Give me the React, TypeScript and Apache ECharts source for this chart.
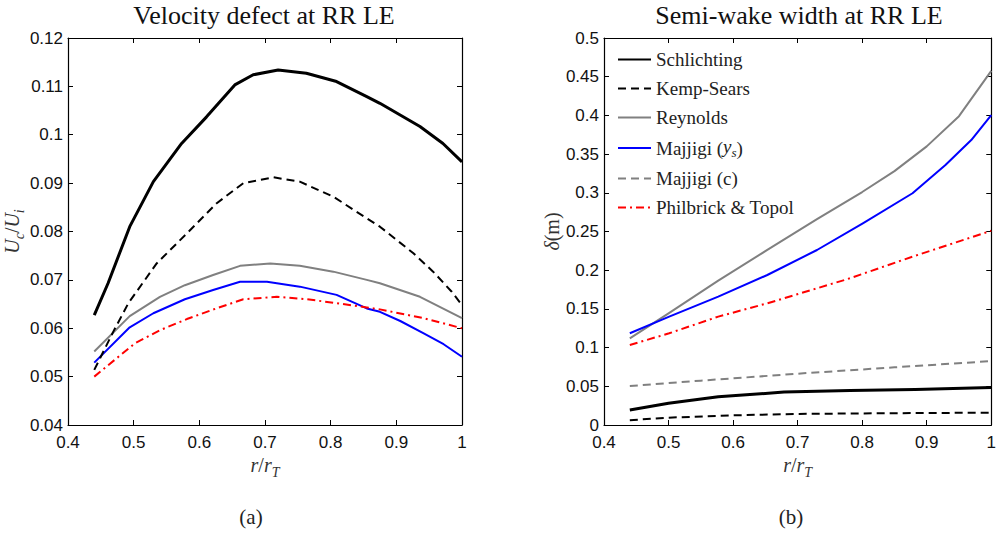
import { useEffect, useRef } from "react";
import * as echarts from "echarts";

// ---------- tick values ----------
const xTicks = [0.4, 0.5, 0.6, 0.7, 0.8, 0.9, 1.0];
const leftYTicks = [0.04, 0.05, 0.06, 0.07, 0.08, 0.09, 0.1, 0.11, 0.12];
const rightYTicks = [0, 0.05, 0.1, 0.15, 0.2, 0.25, 0.3, 0.35, 0.4, 0.45, 0.5];

// ---------- legend / series names ----------
const seriesNames = ["Schlichting", "Kemp-Sears", "Reynolds", "Majjigi (ys)", "Majjigi (c)", "Philbrick & Topol"];

// ---------- (a) Velocity defect ----------
const aSchlichtingX = [0.44, 0.461, 0.494, 0.530, 0.573, 0.611, 0.654, 0.682, 0.720, 0.763, 0.809, 0.855, 0.875, 0.936, 0.971, 1.0];
const aSchlichtingY = [0.0627, 0.0693, 0.0810, 0.0903, 0.0982, 0.1037, 0.1103, 0.1124, 0.1134, 0.1127, 0.1110, 0.1079, 0.1065, 0.1017, 0.0982, 0.0944];

const aKempX = [0.44, 0.469, 0.492, 0.535, 0.581, 0.626, 0.667, 0.713, 0.753, 0.804, 0.845, 0.875, 0.926, 0.956, 0.984, 1.0];
const aKempY = [0.0514, 0.0593, 0.0652, 0.0734, 0.0796, 0.0858, 0.0900, 0.0912, 0.0903, 0.0872, 0.0836, 0.0810, 0.0755, 0.0717, 0.0676, 0.0648];

const aReynoldsX = [0.44, 0.494, 0.540, 0.578, 0.621, 0.662, 0.708, 0.753, 0.804, 0.855, 0.875, 0.936, 1.0];
const aReynoldsY = [0.0552, 0.0625, 0.0665, 0.0689, 0.0710, 0.0729, 0.0734, 0.0729, 0.0717, 0.0700, 0.0693, 0.0665, 0.0621];

const aMajjigiYsX = [0.44, 0.494, 0.530, 0.578, 0.621, 0.662, 0.703, 0.753, 0.809, 0.855, 0.875, 0.906, 0.941, 0.972, 1.0];
const aMajjigiYsY = [0.0529, 0.0602, 0.0631, 0.0660, 0.0679, 0.0696, 0.0696, 0.0686, 0.0669, 0.0641, 0.0634, 0.0615, 0.0590, 0.0567, 0.0541];

const aPhilbrickX = [0.44, 0.502, 0.540, 0.581, 0.626, 0.667, 0.718, 0.763, 0.809, 0.855, 0.875, 0.941, 1.0];
const aPhilbrickY = [0.0500, 0.0569, 0.0596, 0.0619, 0.0641, 0.0660, 0.0665, 0.0660, 0.0652, 0.0643, 0.0639, 0.0621, 0.0600];

// ---------- (b) Semi-wake width ----------
const bSchlichtingX = [0.44, 0.5, 0.577, 0.679, 0.781, 0.882, 1.0];
const bSchlichtingY = [0.0194, 0.0280, 0.0366, 0.0425, 0.0445, 0.0460, 0.0485];

const bKempX = [0.44, 0.5, 0.6, 0.7, 0.8, 0.9, 1.0];
const bKempY = [0.0062, 0.0095, 0.0125, 0.0143, 0.0150, 0.0155, 0.0159];

const bReynoldsX = [0.44, 0.50, 0.577, 0.653, 0.730, 0.80, 0.85, 0.90, 0.95, 1.0];
const bReynoldsY = [0.112, 0.1443, 0.1866, 0.2262, 0.2660, 0.3010, 0.3280, 0.3600, 0.3990, 0.4575];

const bMajjigiYsX = [0.44, 0.501, 0.577, 0.653, 0.730, 0.801, 0.878, 0.929, 0.969, 1.0];
const bMajjigiYsY = [0.1185, 0.1400, 0.1658, 0.1938, 0.2261, 0.2606, 0.2994, 0.3359, 0.3682, 0.4005];

const bMajjigiCX = [0.44, 0.55, 0.709, 0.85, 1.0];
const bMajjigiCY = [0.0504, 0.0573, 0.0668, 0.0745, 0.0825];

const bPhilbrickX = [0.44, 0.501, 0.577, 0.653, 0.730, 0.776, 0.878, 1.0];
const bPhilbrickY = [0.1034, 0.1185, 0.1400, 0.1572, 0.1766, 0.1882, 0.2175, 0.2510];

// ---------- styles ----------
const SERIF = "Liberation Serif";
const SANS = "Liberation Sans";

const styles: Record<string, { color: string; width: number; type: any; z: number }> = {
  "Schlichting": { color: "#000000", width: 3, type: "solid", z: 6 },
  "Kemp-Sears": { color: "#000000", width: 2, type: [8, 5], z: 5 },
  "Reynolds": { color: "#808080", width: 2, type: "solid", z: 3 },
  "Majjigi (ys)": { color: "#0000ff", width: 2, type: "solid", z: 4 },
  "Majjigi (c)": { color: "#808080", width: 2, type: [8, 5], z: 2 },
  "Philbrick & Topol": { color: "#ff0000", width: 2, type: [8, 4, 2, 4], z: 4 },
};

const pairs = (xs: number[], ys: number[]) => xs.map((x, i) => [x, ys[i]]);
const fmt = (v: number) => String(parseFloat(v.toFixed(3)));
const step = (t: number[]) => parseFloat((t[1] - t[0]).toFixed(4));

function makeSeries(name: string, xs: number[], ys: number[], axisIdx: number) {
  const s = styles[name];
  return {
    type: "line",
    name,
    xAxisIndex: axisIdx,
    yAxisIndex: axisIdx,
    data: pairs(xs, ys),
    symbol: "none",
    showSymbol: false,
    smooth: false,
    z: s.z,
    lineStyle: { color: s.color, width: s.width, type: s.type, join: "round" },
    itemStyle: { color: s.color },
    emphasis: { disabled: true },
  };
}

function axisPair(ticks: number[], gridIndex: number, dir: "x" | "y") {
  const common = {
    type: "value",
    gridIndex,
    min: ticks[0],
    max: ticks[ticks.length - 1],
    interval: step(ticks),
    splitLine: { show: false },
    axisLine: { show: true, onZero: false, lineStyle: { color: "#000", width: 1.2 } },
    axisTick: { show: true, inside: true, length: 5, lineStyle: { color: "#000", width: 1 } },
  };
  const main = {
    ...common,
    position: dir === "x" ? "bottom" : "left",
    axisLabel: {
      show: true,
      formatter: fmt,
      fontFamily: SANS,
      fontSize: 17,
      lineHeight: 12,
      color: "#111",
      margin: dir === "x" ? 11 : 5,
      showMinLabel: true,
      showMaxLabel: true,
    },
  };
  const opp = {
    ...common,
    position: dir === "x" ? "top" : "right",
    axisLabel: { show: false },
  };
  return [main, opp];
}

const mathRich = {
  i: { fontFamily: SERIF, fontStyle: "italic", fontSize: 20, color: "#333", verticalAlign: "bottom", padding: [0, 0, 4, 0] },
  n: { fontFamily: SERIF, fontSize: 20, color: "#333", verticalAlign: "bottom", padding: [0, 0, 4, 0] },
  s: { fontFamily: SERIF, fontStyle: "italic", fontSize: 14, color: "#333", verticalAlign: "bottom" },
};

export default function App() {
  const ref = useRef<HTMLDivElement>(null);

  useEffect(() => {
    if (!ref.current) return;
    const chart = echarts.init(ref.current, undefined, { renderer: "svg" });

    const [lx, lxTop] = axisPair(xTicks, 0, "x");
    const [ly, lyRight] = axisPair(leftYTicks, 0, "y");
    const [rx, rxTop] = axisPair(xTicks, 1, "x");
    const [ry, ryRight] = axisPair(rightYTicks, 1, "y");

    const xName = {
      name: "{i|r}{n|/}{i|r}{s|T}",
      nameLocation: "middle",
      nameGap: 20,
      nameTextStyle: { rich: mathRich },
    };

    const option: any = {
      animation: false,
      backgroundColor: "#ffffff",
      grid: [
        { left: 68, top: 38, width: 394, height: 387, containLabel: false },
        { left: 604, top: 38, width: 393, height: 387, containLabel: false },
      ],
      xAxis: [
        { ...lx, ...xName },
        lxTop,
        { ...rx, ...xName },
        rxTop,
      ],
      yAxis: [
        {
          ...ly,
          name: "{i|U}{s|c}{n|/}{i|U}{s|i}",
          nameLocation: "middle",
          nameRotate: 90,
          nameGap: 34,
          nameTextStyle: { rich: mathRich },
        },
        lyRight,
        {
          ...ry,
          name: "{i|δ}{n|(m)}",
          nameLocation: "middle",
          nameRotate: 90,
          nameGap: 36,
          nameTextStyle: { rich: mathRich },
        },
        ryRight,
      ],
      legend: {
        show: true,
        orient: "vertical",
        left: 617,
        top: 50,
        padding: 0,
        itemWidth: 33,
        itemHeight: 14,
        itemGap: 10,
        selectedMode: false,
        data: seriesNames,
        itemStyle: { opacity: 0 },
        formatter: (name: string) =>
          name === "Majjigi (ys)" ? "Majjigi ({i|y}{s|s})" : name,
        textStyle: {
          fontFamily: SERIF,
          fontSize: 19,
          color: "#222",
          rich: {
            i: { fontFamily: SERIF, fontStyle: "italic", fontSize: 19, color: "#222", verticalAlign: "bottom", padding: [0, 0, 3, 0] },
            s: { fontFamily: SERIF, fontStyle: "italic", fontSize: 13, color: "#222", verticalAlign: "bottom" },
          },
        },
      },
      graphic: [
        {
          type: "text",
          x: 264,
          y: 15,
          style: { text: "Velocity defect at RR LE", font: `26px "${SERIF}"`, fill: "#111", textAlign: "center", verticalAlign: "middle", textVerticalAlign: "middle" },
        },
        {
          type: "text",
          x: 799,
          y: 15,
          style: { text: "Semi-wake width at RR LE", font: `26px "${SERIF}"`, fill: "#111", textAlign: "center", verticalAlign: "middle", textVerticalAlign: "middle" },
        },
        {
          type: "text",
          x: 251,
          y: 517,
          style: { text: "(a)", font: `21px "${SERIF}"`, fill: "#222", textAlign: "center", verticalAlign: "middle", textVerticalAlign: "middle" },
        },
        {
          type: "text",
          x: 791,
          y: 517,
          style: { text: "(b)", font: `21px "${SERIF}"`, fill: "#222", textAlign: "center", verticalAlign: "middle", textVerticalAlign: "middle" },
        },
      ],
      series: [
        makeSeries("Schlichting", aSchlichtingX, aSchlichtingY, 0),
        makeSeries("Kemp-Sears", aKempX, aKempY, 0),
        makeSeries("Reynolds", aReynoldsX, aReynoldsY, 0),
        makeSeries("Majjigi (ys)", aMajjigiYsX, aMajjigiYsY, 0),
        makeSeries("Philbrick & Topol", aPhilbrickX, aPhilbrickY, 0),
        makeSeries("Schlichting", bSchlichtingX, bSchlichtingY, 2),
        makeSeries("Kemp-Sears", bKempX, bKempY, 2),
        makeSeries("Reynolds", bReynoldsX, bReynoldsY, 2),
        makeSeries("Majjigi (ys)", bMajjigiYsX, bMajjigiYsY, 2),
        makeSeries("Majjigi (c)", bMajjigiCX, bMajjigiCY, 2),
        makeSeries("Philbrick & Topol", bPhilbrickX, bPhilbrickY, 2),
      ],
    };

    chart.setOption(option);
    return () => {
      chart.dispose();
    };
  }, []);

  return (
    <div
      ref={ref}
      style={{ position: "fixed", left: 0, top: 0, width: 999, height: 538, background: "#fff" }}
    />
  );
}
